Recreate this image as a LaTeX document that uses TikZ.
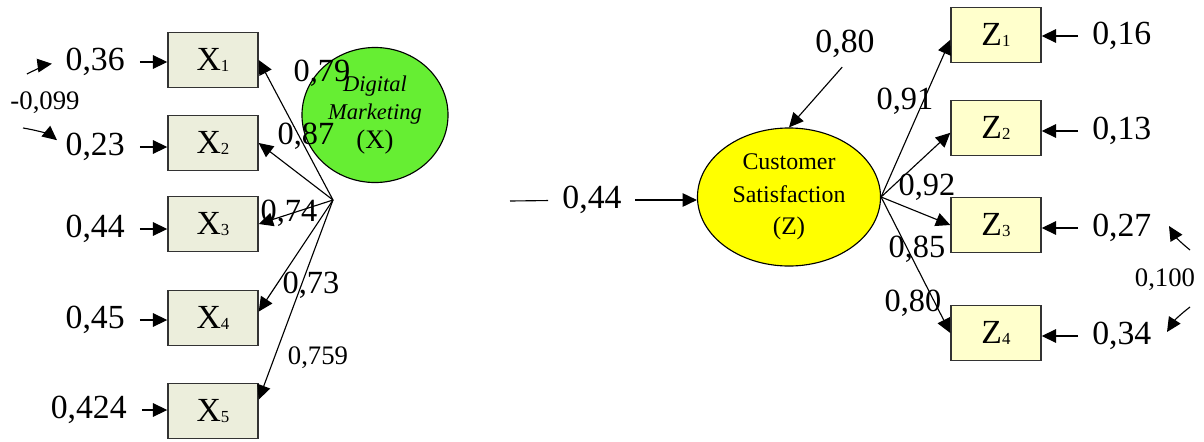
\documentclass[tikz,border=0pt]{standalone}
\usepackage{fontspec}
\setmainfont{Liberation Serif}
\usetikzlibrary{arrows.meta, positioning, shapes.geometric}
\definecolor{xfill}{HTML}{ECEEDC}
\definecolor{zfill}{HTML}{FFFFCC}
\definecolor{dmgreen}{HTML}{66EE33}
\definecolor{csyellow}{HTML}{FFFF00}
\newcommand{\sub}[1]{\raisebox{-1pt}{\fontsize{12}{12}\selectfont #1}}
\tikzset{
	obs/.style={draw=black!80, line width=1pt, minimum width=2.25cm, minimum height=1.37cm, inner sep=0pt, font=\fontsize{24}{28}\selectfont},
	xbox/.style={obs, fill=xfill},
	zbox/.style={obs, fill=zfill},
	latent/.style={draw, ellipse, line width=0.8pt, inner sep=0pt, align=center},
	val/.style={inner sep=0pt, font=\fontsize{24}{28}\selectfont},
	load/.style={inner sep=0pt, font=\fontsize{23}{28}\selectfont},
	cov/.style={inner sep=0pt, font=\fontsize{19}{22}\selectfont},
	arr/.style={-{Triangle[length=3.6mm, width=3.4mm]}, line width=0.8pt},
	conn/.style={line width=0.8pt}
}
\begin{document}
\begin{tikzpicture}[x=0.025cm, y=-0.025cm]
	\useasboundingbox (0,0) rectangle (1204,441);
	
	% ==========================================
	% DIGITAL MARKETING (X)
	% ==========================================
	\node[latent, fill=dmgreen, minimum width=3.65cm, minimum height=3.375cm,
		font=\fontsize{16}{20}\selectfont] (dm) at (375,115)
		{\itshape Digital\\\itshape Marketing\\[1pt]{\fontsize{19}{22}\selectfont (X)}};
	\coordinate (hub) at (333,200); % where the loadings meet
	
	% --- indicators X1..X5 ---
	\foreach \i/\y in {1/60,2/143,3/224,4/318,5/411}
		\node[xbox] (X\i) at (213,\y) {X\sub{\i}};
	
	\draw[arr] (hub) -- (X1.east);
	\draw[arr] (hub) -- (X2.east);
	\draw[arr] (hub) -- (X3.east);
	\draw[arr] (hub) -- (X4.8);
	\draw[arr] (hub) -- (X5.14);
	
	\node[load] (lx1) at (322,73) {0,79};
	\node[load] (lx2) at (306,136) {0,87};
	\node[load] (lx3) at (289,213) {0,74};
	\node[load] (lx4) at (311,285) {0,73};
	\node[cov] (lx5) at (318,358) {0,759};
	
	% --- errors ---
	\node[val, anchor=east] (ex1) at (125,62) {0,36};
	\node[val, anchor=east] (ex2) at (125,147) {0,23};
	\node[val, anchor=east] (ex3) at (125,229) {0,44};
	\node[val, anchor=east] (ex4) at (125,320) {0,45};
	\node[val, anchor=east] (ex5) at (127,410) {0,424};
	\foreach \i in {1,...,5}
		\draw[arr, shorten <=0.37cm] (ex\i) -- (ex\i -| X\i.west);
	
	% covariance of the first two errors
	\node[cov] (cx) at (45,103) {-0,099};
	\coordinate (cxa) at (27,74);
	\coordinate (cxb) at (23,128);
	\draw[arr, shorten >=0.34cm] (cxa) to[bend left=10] (ex1.west);
	\draw[arr, shorten >=0.27cm] (cxb) to[bend left=15] (ex2.west);
	
	% ==========================================
	% X --> Z
	% ==========================================
	\coordinate (dmout) at (510,201);
	\node[val] (path) at (592,200) {0,44};
	
	% ==========================================
	% CUSTOMER SATISFACTION (Z)
	% ==========================================
	\node[latent, fill=csyellow, minimum width=4.575cm, minimum height=3.45cm,
		font=\fontsize{17}{23}\selectfont] (cs) at (789,197)
		{Customer\\Satisfaction\\{\fontsize{18}{23}\selectfont (Z)}};
	
	\draw[conn, shorten >=0.35cm] (dmout) -- (path);
	\draw[arr, shorten <=0.33cm] (path) -- (path -| cs.west);
	
	\node[val] (dz) at (845,44) {0,80};
	\draw[arr, shorten <=0.3cm] (dz.-70) -- (cs.north);
	
	% --- indicators Z1..Z4 ---
	\foreach \i/\y in {1/35,2/128,3/225,4/333}
		\node[zbox] (Z\i) at (996,\y) {Z\sub{\i}};
	
	\draw[arr] (cs.east) -- (Z1.186);
	\draw[arr] (cs.east) -- (Z2.186);
	\draw[arr] (cs.east) -- (Z3.west);
	\draw[arr] (cs.east) -- (Z4.west);
	
	\node[load] (lz1) at (905,101) {0,91};
	\node[load] (lz2) at (927,187) {0,92};
	\node[load] (lz3) at (917,249) {0,85};
	\node[load] (lz4) at (913,303) {0,80};
	
	% --- errors ---
	\node[val, anchor=west] (ez1) at (1092,36) {0,16};
	\node[val, anchor=west] (ez2) at (1092,131) {0,13};
	\node[val, anchor=west] (ez3) at (1092,228) {0,27};
	\node[val, anchor=west] (ez4) at (1092,336) {0,34};
	\foreach \i in {1,...,4}
		\draw[arr, shorten <=0.35cm] (ez\i) -- (ez\i -| Z\i.east);
	
	% covariance of the last two errors
	\node[cov] (cz) at (1165,280) {0,100};
	\coordinate (cza) at (1190,250);
	\coordinate (czat) at (1169,226);
	\coordinate (czb) at (1190,307);
	\coordinate (czbt) at (1167,332);
	\draw[arr] (cza) to[bend left=10] (czat);
	\draw[arr] (czb) to[bend right=10] (czbt);
	
\end{tikzpicture}
\end{document}
